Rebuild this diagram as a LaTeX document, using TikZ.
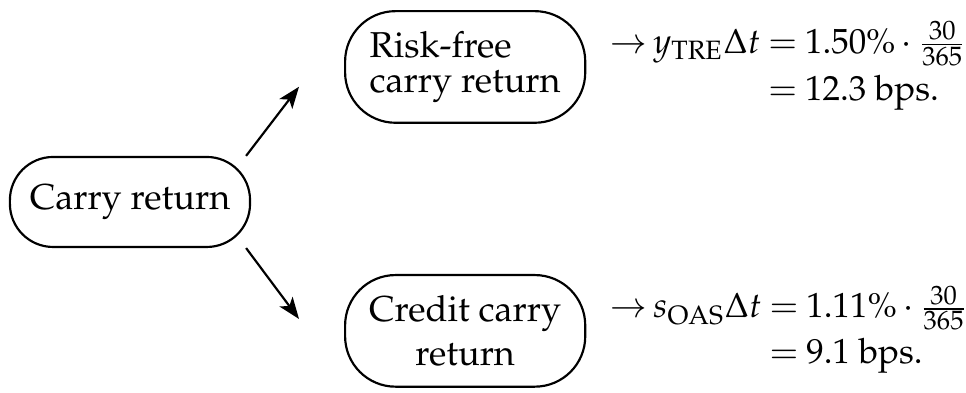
\documentclass[tikz,border=0pt]{standalone}
\usepackage[T1]{fontenc}
\usepackage{mathpazo}
\usepackage{amsmath,amssymb}
\usepackage{tikz}
\usetikzlibrary{arrows.meta, positioning, calc}

\begin{document}
\begin{tikzpicture}[
    node distance=8pt and 26pt,
    pill/.style={rectangle, rounded corners=#1, draw=black, line width=0.6pt,
                 minimum width=66.7pt, inner sep=2pt},
    arr/.style={-{Stealth[length=6pt, width=4.5pt, inset=1.5pt]}, line width=0.6pt},
    eqn/.style={inner sep=0pt, anchor=west, scale=0.97,
                execute at begin node={\medmuskip=3mu\thickmuskip=4mu}}
]
\useasboundingbox (-36.1pt,-52.8pt) rectangle (232.2pt,56.1pt);
% Nodes
\node[pill=12pt, minimum height=25pt] (C) {Carry return};
\node[pill=14pt, minimum height=31pt, align=left, above right=8.9pt and 25.8pt of C] (R)
    {Risk-free\\[-2.5pt]carry return};
\node[pill=14pt, minimum height=31pt, align=center, below right=7.2pt and 25.8pt of C] (K)
    {Credit carry\\return};

% Equations
\node[eqn, right=6.4pt of R] (eR) {$\begin{aligned}
    {\to}\, y_{\mathrm{TRE}}\Delta t &= 1.50\% \cdot \tfrac{30}{365}\\[-1.5pt]
    &= 12.3\text{ bps.}
  \end{aligned}$};
\node[eqn, right=6.4pt of K] (eK) {$\begin{aligned}
    {\to}\, s_{\mathrm{OAS}}\Delta t &= 1.11\% \cdot \tfrac{30}{365}\\[-2pt]
    &= 9.1\text{ bps.}
  \end{aligned}$};

% Arrows
\draw[arr] ([xshift=-1.4pt]C.north east) -- ([shift={(-12.5pt,10.3pt)}]R.south west);
\draw[arr] ([xshift=-1.4pt]C.south east) -- ([shift={(-12.5pt,-12.5pt)}]K.north west);
\end{tikzpicture}
\end{document}
